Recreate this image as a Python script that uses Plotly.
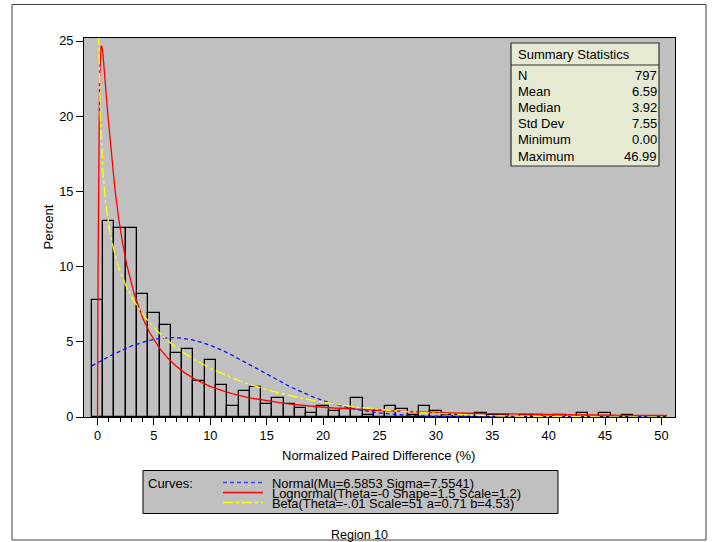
import math
import numpy as np
import plotly.graph_objects as go

# ---------------- data ----------------
bin_centers = list(range(0, 51))
percents = [7.78, 13.05, 12.55, 12.55, 8.16, 6.90, 6.15, 4.27, 4.52, 2.38,
            3.76, 2.13, 0.75, 1.76, 2.01, 0.88, 1.25, 0.88, 0.63, 0.25,
            0.75, 0.38, 0.50, 1.25, 0.13, 0.38, 0.75, 0.50, 0.13, 0.75,
            0.38, 0.13, 0.13, 0.0, 0.25, 0.13, 0.13, 0.0, 0.13, 0.13,
            0.0, 0.13, 0.0, 0.25, 0.0, 0.25, 0.0, 0.13, 0.0, 0.0, 0.0]

normal_mu, normal_sigma = 6.5853, 7.5541
logn_theta, logn_shape, logn_scale = 0.0, 1.5, 1.2
beta_theta, beta_scale, beta_a, beta_b = -0.01, 51.0, 0.71, 4.53

stat_names = ["N", "Mean", "Median", "Std Dev", "Minimum", "Maximum"]
stat_values = ["797", "6.59", "3.92", "7.55", "0.00", "46.99"]

legend_labels = ["Normal(Mu=6.5853 Sigma=7.5541)",
                 "Lognormal(Theta=-0 Shape=1.5 Scale=1.2)",
                 "Beta(Theta=-.01 Scale=51 a=0.71 b=4.53)"]

x_ticks = list(range(0, 51, 5))
y_ticks = list(range(0, 26, 5))

# ---------------- curves (percent per unit bin width) ----------------
bin_width = 1.0
xg = np.linspace(-0.5, 50.5, 5101)
normal_y = 100 * bin_width * np.exp(-0.5 * ((xg - normal_mu) / normal_sigma) ** 2) / (normal_sigma * math.sqrt(2 * math.pi))

xl = np.linspace(0.0, 50.5, 10101)
zl = xl - logn_theta
logn_y = np.zeros_like(xl)
m = zl > 0
logn_y[m] = 100 * bin_width * np.exp(-(np.log(zl[m]) - logn_scale) ** 2 / (2 * logn_shape ** 2)) / (zl[m] * logn_shape * math.sqrt(2 * math.pi))

xb = np.linspace(0.0, 50.5, 10101)
u = (xb - beta_theta) / beta_scale
lnB = math.lgamma(beta_a) + math.lgamma(beta_b) - math.lgamma(beta_a + beta_b)
beta_y = 100 * bin_width * np.exp((beta_a - 1) * np.log(u) + (beta_b - 1) * np.log(1 - u) - lnB) / beta_scale

# ---------------- figure ----------------
W, H = 713, 542
L, R, T, B = 84, 675, 38, 417   # plot area in pixels


def px(x):
    return (x - L) / (R - L)


def py(y):
    return (B - y) / (B - T)


fig = go.Figure()
fig.add_trace(go.Bar(x=bin_centers, y=percents, width=1.0,
                     marker=dict(color="rgba(0,0,0,0)", line=dict(color="black", width=1.3)),
                     showlegend=False, hoverinfo="x+y"))
fig.add_trace(go.Scatter(x=xg, y=normal_y, mode="lines",
                         line=dict(color="#1010ff", width=1.3, dash="4px,3px"), showlegend=False))
fig.add_trace(go.Scatter(x=xl, y=logn_y, mode="lines",
                         line=dict(color="#ff0000", width=1.3), showlegend=False))
fig.add_trace(go.Scatter(x=xb, y=beta_y, mode="lines",
                         line=dict(color="#ffff00", width=1.3, dash="10px,3px,3px,3px"), showlegend=False))

font = "Liberation Sans, Arial, sans-serif"
fig.update_layout(
    width=W, height=H,
    margin=dict(l=L, r=W - R, t=T, b=H - B, pad=0),
    paper_bgcolor="white", plot_bgcolor="#c0c0c0",
    font=dict(family=font, size=12.5, color="black"),
    bargap=0,
    xaxis=dict(range=[-1.2, 51.2], tickmode="array", tickvals=x_ticks,
               ticks="outside", ticklen=7, tickwidth=1, tickcolor="black",
               showline=True, linecolor="black", linewidth=1, mirror=True,
               showgrid=False, zeroline=False,
               minor=dict(tickmode="array", tickvals=list(range(0, 51)), ticks="outside",
                          ticklen=4, tickwidth=1, tickcolor="black", showgrid=False),
               tickfont=dict(size=12.8)),
    yaxis=dict(range=[0, 25.2], tickmode="array", tickvals=y_ticks,
               ticks="outside", ticklen=7, tickwidth=1, tickcolor="black",
               showline=True, linecolor="black", linewidth=1, mirror=True,
               showgrid=False, zeroline=False, tickfont=dict(size=12.8)),
)

shapes = []
annotations = []

# outer frame
shapes.append(dict(type="rect", xref="paper", yref="paper",
                   x0=px(12), x1=px(706), y0=py(540), y1=py(4.5),
                   line=dict(color="#404040", width=1), fillcolor="rgba(0,0,0,0)", layer="below"))

# axis titles
annotations.append(dict(text="Percent", xref="paper", yref="paper", x=px(48), y=py(227.5),
                        showarrow=False, textangle=-90, font=dict(size=13), xanchor="center", yanchor="middle"))
annotations.append(dict(text="Normalized Paired Difference (%)", xref="paper", yref="paper",
                        x=px(378), y=py(455), showarrow=False, font=dict(size=13),
                        xanchor="center", yanchor="middle"))

# summary statistics box
shapes.append(dict(type="rect", xref="paper", yref="paper",
                   x0=px(511), x1=px(659), y0=py(166), y1=py(43),
                   line=dict(color="#303030", width=1.2), fillcolor="#e6ead3", layer="above"))
shapes.append(dict(type="line", xref="paper", yref="paper",
                   x0=px(511), x1=px(659), y0=py(65), y1=py(65),
                   line=dict(color="#303030", width=1.2), layer="above"))
annotations.append(dict(text="Summary Statistics", xref="paper", yref="paper",
                        x=px(515.8), y=py(54.5), showarrow=False, font=dict(size=13),
                        xanchor="left", yanchor="middle"))
for i, (nm, val) in enumerate(zip(stat_names, stat_values)):
    yy = 75.3 + 16.15 * i
    annotations.append(dict(text=nm, xref="paper", yref="paper", x=px(515.8), y=py(yy),
                            showarrow=False, font=dict(size=13), xanchor="left", yanchor="middle"))
    annotations.append(dict(text=val, xref="paper", yref="paper", x=px(658.5), y=py(yy),
                            showarrow=False, font=dict(size=13), xanchor="right", yanchor="middle"))

# curves legend box
shapes.append(dict(type="rect", xref="paper", yref="paper",
                   x0=px(143), x1=px(558), y0=py(513.5), y1=py(470.5),
                   line=dict(color="black", width=1), fillcolor="#c0c0c0", layer="above"))
annotations.append(dict(text="Curves:", xref="paper", yref="paper", x=px(145.5), y=py(483),
                        showarrow=False, font=dict(size=13), xanchor="left", yanchor="middle"))
leg_styles = [("#4040ff", "4px,3px"), ("#ff0000", "solid"), ("#ffff00", "10px,3px,3px,3px")]
for i, (lab, (col, dsh)) in enumerate(zip(legend_labels, leg_styles)):
    yy = 483 + 10 * i
    shapes.append(dict(type="line", xref="paper", yref="paper",
                       x0=px(223), x1=px(263), y0=py(yy - 0.5), y1=py(yy - 0.5),
                       line=dict(color=col, width=1.3, dash=dsh), layer="above"))
    annotations.append(dict(text=lab, xref="paper", yref="paper", x=px(270), y=py(yy),
                            showarrow=False, font=dict(size=12.9), xanchor="left", yanchor="middle"))

annotations.append(dict(text="Region 10", xref="paper", yref="paper", x=px(359), y=py(535),
                        showarrow=False, font=dict(size=12.5), xanchor="center", yanchor="middle"))

fig.update_layout(shapes=shapes, annotations=annotations)
fig.write_html("out.html")
